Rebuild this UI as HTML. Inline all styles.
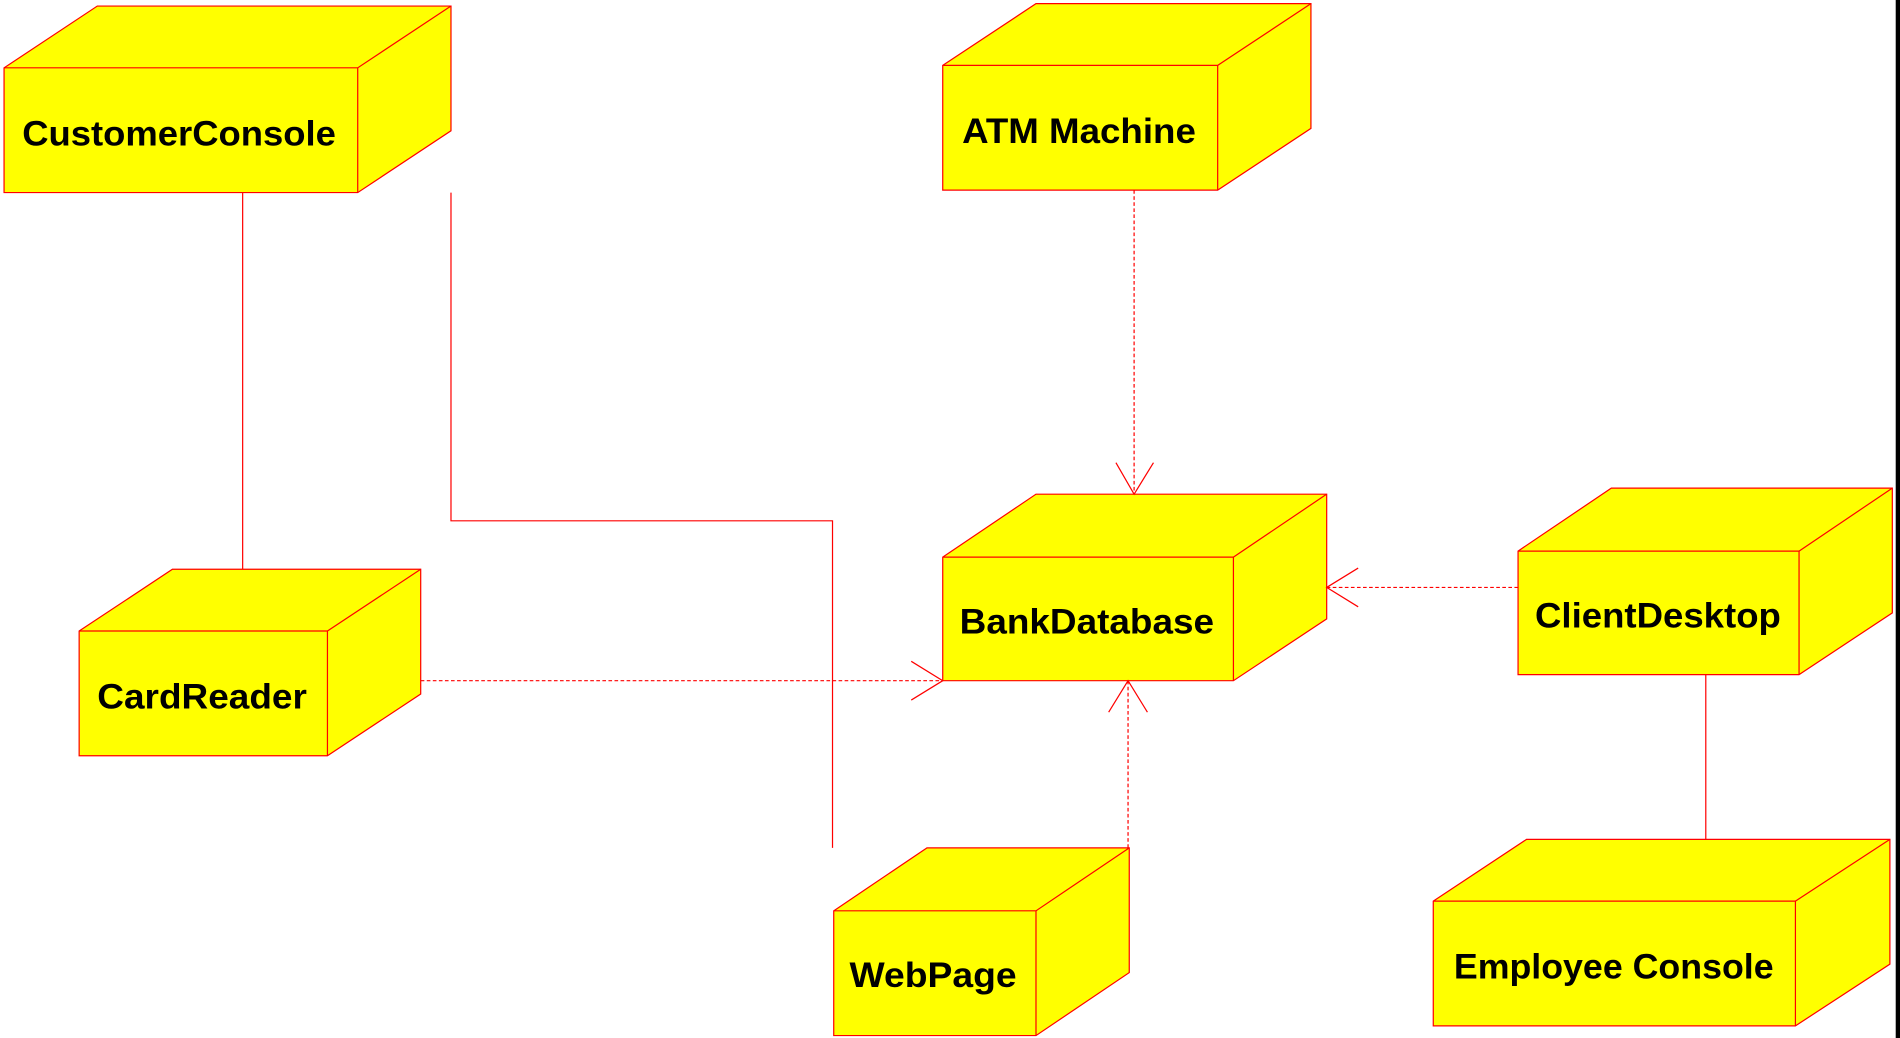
<!DOCTYPE html>
<html><head><meta charset="utf-8"><style>html,body{margin:0;padding:0;background:#fff}svg{display:block}</style></head>
<body>
<svg width="1900" height="1038" viewBox="0 0 1568 857" xmlns="http://www.w3.org/2000/svg" font-family="Liberation Sans, Arial, sans-serif" font-weight="bold" font-size="29">
<g fill="#ffff00" stroke="#ff0000" stroke-width="1">
<polygon points="3,56 80,5 372,5 372,108 295,159 3,159"/><polyline fill="none" points="3,56 295,56 372,5"/><line x1="295" y1="56" x2="295" y2="159"/>
<polygon points="778,54 855,3 1082,3 1082,106 1005,157 778,157"/><polyline fill="none" points="778,54 1005,54 1082,3"/><line x1="1005" y1="54" x2="1005" y2="157"/>
<polygon points="778,460 855,408 1095,408 1095,511 1018,562 778,562"/><polyline fill="none" points="778,460 1018,460 1095,408"/><line x1="1018" y1="460" x2="1018" y2="562"/>
<polygon points="1253,455 1330,403 1562,403 1562,506 1485,557 1253,557"/><polyline fill="none" points="1253,455 1485,455 1562,403"/><line x1="1485" y1="455" x2="1485" y2="557"/>
<polygon points="65,521 142,470 347,470 347,573 270,624 65,624"/><polyline fill="none" points="65,521 270,521 347,470"/><line x1="270" y1="521" x2="270" y2="624"/>
<polygon points="688,752 765,700 932,700 932,803 855,855 688,855"/><polyline fill="none" points="688,752 855,752 932,700"/><line x1="855" y1="752" x2="855" y2="855"/>
<polygon points="1183,744 1260,693 1560,693 1560,796 1482,847 1183,847"/><polyline fill="none" points="1183,744 1482,744 1560,693"/><line x1="1482" y1="744" x2="1482" y2="847"/>
</g>
<g stroke="#ff0000" stroke-width="1" fill="none">
<line x1="200" y1="159" x2="200" y2="470"/>
<polyline points="372,159 372,430 687,430 687,700"/>
<line x1="1408" y1="557" x2="1408" y2="693"/>
<g stroke-dasharray="3,2">
<line x1="936" y1="157" x2="936" y2="408"/>
<line x1="347" y1="562" x2="778" y2="562"/>
<line x1="931" y1="700" x2="931" y2="562"/>
<line x1="1253" y1="485" x2="1095" y2="485"/>
</g>
<polyline points="921,382 936,408 952,382"/>
<polyline points="752,546 778,562 752,578"/>
<polyline points="915,588 931,562 947,588"/>
<polyline points="1121,469 1095,485 1121,501"/>
</g>
<rect x="1564.8" y="0" width="4" height="857" fill="#000"/>
<g fill="#000">
<text x="18" y="120" textLength="259" lengthAdjust="spacingAndGlyphs">CustomerConsole</text>
<text x="794" y="118" textLength="193" lengthAdjust="spacingAndGlyphs">ATM Machine</text>
<text x="792" y="523" textLength="210" lengthAdjust="spacingAndGlyphs">BankDatabase</text>
<text x="1267" y="518" textLength="203" lengthAdjust="spacingAndGlyphs">ClientDesktop</text>
<text x="80" y="585" textLength="173" lengthAdjust="spacingAndGlyphs">CardReader</text>
<text x="701" y="815" textLength="138" lengthAdjust="spacingAndGlyphs">WebPage</text>
<text x="1200" y="808" textLength="264" lengthAdjust="spacingAndGlyphs">Employee Console</text>
</g>
</svg>
</body></html>
